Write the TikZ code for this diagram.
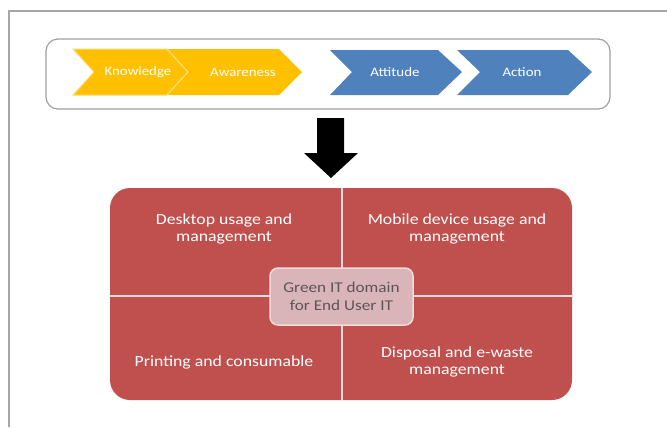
\documentclass[tikz,border=0pt]{standalone}
\usepackage{fontspec}
\setmainfont{Carlito}[FakeStretch=1.15]
\definecolor{frameg}{HTML}{A6A6A6}
\definecolor{boxg}{HTML}{A0A0A0}
\definecolor{offyel}{HTML}{FFC000}
\definecolor{offblue}{HTML}{4F81BD}
\definecolor{offred}{HTML}{C0504D}
\definecolor{centfill}{HTML}{D9B5B9}
\definecolor{centline}{HTML}{F4DADA}
\definecolor{centtext}{HTML}{5E5456}
\tikzset{
  chevy/.style={fill=offyel, draw=offyel!55!white, line width=1bp},
  chevb/.style={fill=offblue, draw=none},
  chevlabel/.style={text=white, font=\fontsize{13}{15}\selectfont, inner sep=0pt},
  quadlabel/.style={text=white, font=\fontsize{15.5}{17}\selectfont, align=center, inner sep=0pt},
  divider/.style={draw=centline, line width=2bp},
}
\begin{document}
\begin{tikzpicture}[x=1bp,y=-1bp]
\useasboundingbox (0,0) rectangle (667,427);
% outer frame (top and left edges visible)
\draw[frameg, line width=1.2bp] (9,427) -- (9,11) -- (667,11);
% top rounded container
\draw[boxg, line width=1.2bp, rounded corners=12bp] (46,39) rectangle (610,109);
% chevrons
\fill[chevy] (73,49) -- (167,49) -- (188,72) -- (167,95) -- (73,95) -- (94,72) -- cycle;
\fill[offyel] (167,49) -- (279,49) -- (302,72) -- (279,95) -- (167,95) -- (188,72) -- cycle;
\draw[offyel!50!white, line width=1bp] (167,49) -- (188,72) -- (167,95);
\fill[chevb] (330,50) -- (438,50) -- (462,72) -- (438,95) -- (330,95) -- (352,72) -- cycle;
\fill[chevb] (457,50) -- (568,50) -- (592,72) -- (568,95) -- (457,95) -- (480,72) -- cycle;
\node[chevlabel] (know) at (138,72) {Knowledge};
\node[chevlabel] (aware) at (243,72) {Awareness};
\node[chevlabel] (att) at (395,72) {Attitude};
\node[chevlabel] (act) at (522,72) {Action};
% big down arrow
\fill[black] (317,118) -- (344,118) -- (344,153) -- (358,153) -- (331,178) -- (304,153) -- (317,153) -- cycle;
% red quadrant box
\fill[offred, rounded corners=20bp] (110,188) rectangle (572,400);
\draw[divider] (342,188) -- (342,400);
\draw[divider] (110,296) -- (572,296);
\node[quadlabel] (desk) at (224,229) {Desktop usage and\\management};
\node[quadlabel] (mob) at (457,229) {Mobile device usage and\\management};
\node[quadlabel] (print) at (224,362) {Printing and consumable};
\node[quadlabel] (disp) at (457,362) {Disposal and e-waste\\management};
% centre box
\node[draw=centline, fill=centfill, line width=1.5bp, rounded corners=8bp,
      minimum width=143bp, minimum height=57bp, inner sep=0pt,
      text=centtext, align=center, font=\fontsize{15}{18}\selectfont] (centre) at (341.5,296.5)
      {Green IT domain\\for End User IT};
\end{tikzpicture}
\end{document}
